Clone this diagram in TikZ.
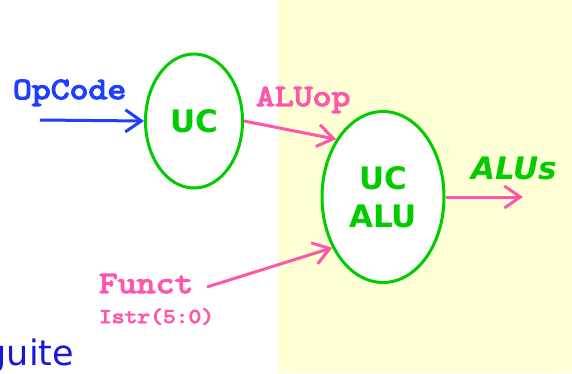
\documentclass[tikz,border=0pt]{standalone}
\usepackage{fontspec}
\usetikzlibrary{shapes.geometric,arrows.meta}
\newfontfamily\monobf[FakeStretch=1.16,FakeBold=4]{lmmono10-regular.otf}
\newfontfamily\vsans{DejaVu Sans}
\definecolor{ucgreen}{HTML}{00CC00}
\definecolor{sigpink}{HTML}{FF55AA}
\definecolor{opblue}{HTML}{1F3FFF}
\definecolor{txtblue}{HTML}{1818D8}
\definecolor{paleyellow}{HTML}{FFFFD6}
\tikzset{
  unit/.style={ellipse, draw=ucgreen, line width=3pt, fill=white, inner sep=0pt,
    text=ucgreen, font=\vsans\bfseries\fontsize{31}{38}\selectfont, align=center},
  lbl/.style={inner sep=0pt, outer sep=0pt},
  codebig/.style={font=\monobf\fontsize{31}{31}\selectfont},
  codesmall/.style={font=\monobf\fontsize{21}{21}\selectfont},
  wire/.style={line width=3pt, -{Straight Barb[length=16pt,width=22pt]}},
}
\begin{document}
\begin{tikzpicture}[x=1pt,y=-1pt]
  \useasboundingbox (0,0) rectangle (572,373);
  \clip (0,0) rectangle (572,373);
  % shaded region on the right
  \fill[paleyellow] (278,0) rectangle (572,373);

  % control units
  \node[unit, minimum width=97pt, minimum height=134pt] (uc) at (194,121) {UC};
  \node[unit, minimum width=122pt, minimum height=171pt] (alu) at (383,197) {UC\\ALU};

  % signal labels
  \node[lbl, codebig, anchor=base west, text=opblue] (op) at (13,99) {OpCode};
  \node[lbl, codebig, anchor=base west, text=sigpink] (aluop) at (256,106) {ALUop};
  \node[lbl, codebig, anchor=base west, text=sigpink] (funct) at (99,293) {Funct};
  \node[lbl, codesmall, anchor=base west, text=sigpink] (istr) at (99,323) {Istr(5:0)};
  \node[lbl, anchor=base west, text=ucgreen, font=\vsans\bfseries\itshape\fontsize{31}{31}\selectfont] (alus) at (471,179) {ALUs};
  \node[lbl, anchor=base east, text=txtblue, font=\vsans\fontsize{35}{35}\selectfont] (guite) at (74,365) {guite};

  % wire end points
  \coordinate (opin) at (40,120);
  \coordinate (fin) at (207,287);
  \coordinate (aluout) at (523,197);

  % connections
  \draw[wire, opblue] (opin) -- (uc.west);
  \draw[wire, sigpink] (uc.east) -- (alu.129);
  \draw[wire, sigpink] (fin) -- (alu.225);
  \draw[wire, sigpink] (alu.east) -- (aluout);
\end{tikzpicture}
\end{document}
